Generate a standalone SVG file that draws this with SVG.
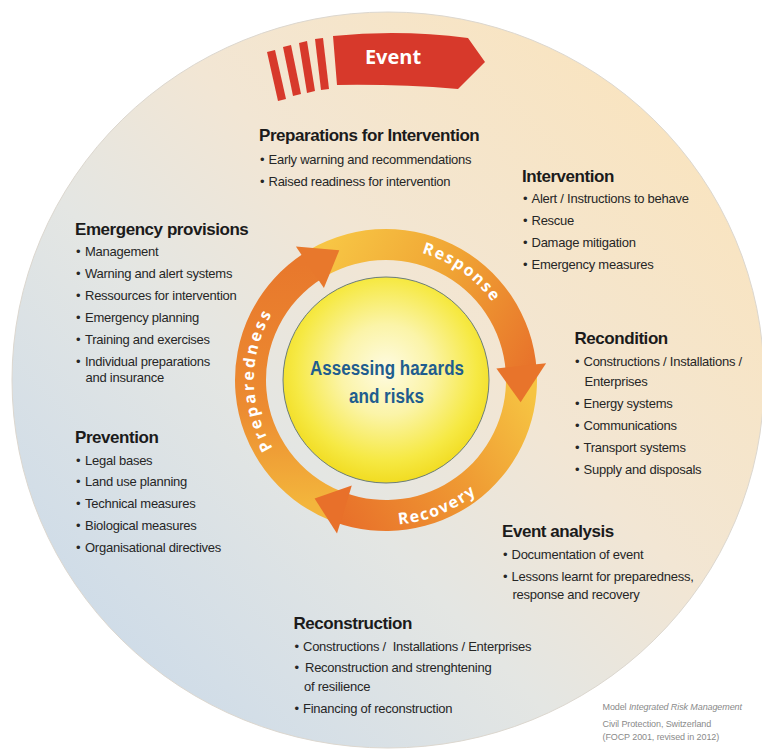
<svg xmlns="http://www.w3.org/2000/svg" width="762" height="749" viewBox="0 0 762 749">
  <defs>
    <style>
      .h { font-family: "Liberation Sans", Arial, sans-serif; font-weight: bold; font-size: 17px; letter-spacing: -0.45px; fill: #1b1b1b; }
      .b { font-family: "Liberation Sans", Arial, sans-serif; font-size: 13px; letter-spacing: -0.25px; fill: #262626; }
      .arc { font-family: "Open Sans", "DejaVu Sans", sans-serif; font-weight: bold; font-size: 16px; fill: #ffffff; }
      .credit { font-family: "Liberation Sans", Arial, sans-serif; font-size: 9px; letter-spacing: -0.1px; fill: #8a8a8a; }
      .center { font-family: "Liberation Sans", Arial, sans-serif; font-weight: bold; font-size: 20px; fill: #1f5d8e; }
      .red { fill: #d7392b; }
    </style>
    <linearGradient id="bg" x1="0.85" y1="0.12" x2="0.1" y2="0.82">
      <stop offset="0" stop-color="#f9e4c0"/>
      <stop offset="0.4" stop-color="#f2e6d4"/>
      <stop offset="0.65" stop-color="#e4e6e3"/>
      <stop offset="1" stop-color="#cfdce8"/>
    </linearGradient>
    <radialGradient id="sun" cx="0.5" cy="0.45" r="0.55">
      <stop offset="0" stop-color="#fefbe2"/>
      <stop offset="0.4" stop-color="#fbf4a8"/>
      <stop offset="0.8" stop-color="#f6e944"/>
      <stop offset="1" stop-color="#f1dc22"/>
    </radialGradient>
    <linearGradient id="gResp" gradientUnits="userSpaceOnUse" x1="318" y1="263" x2="521" y2="380">
      <stop offset="0" stop-color="#f7c544"/>
      <stop offset="0.5" stop-color="#f0a434"/>
      <stop offset="1" stop-color="#e8742b"/>
    </linearGradient>
    <linearGradient id="gReco" gradientUnits="userSpaceOnUse" x1="521" y1="380" x2="329" y2="502">
      <stop offset="0" stop-color="#f6c442"/>
      <stop offset="0.45" stop-color="#ef9a33"/>
      <stop offset="1" stop-color="#e8702a"/>
    </linearGradient>
    <linearGradient id="gPrep" gradientUnits="userSpaceOnUse" x1="329" y1="502" x2="318" y2="263">
      <stop offset="0" stop-color="#f3b53c"/>
      <stop offset="0.4" stop-color="#ec8c31"/>
      <stop offset="1" stop-color="#e8782c"/>
    </linearGradient>
    <path id="pResp" d="M340.85,255.96 A132,132 0 0 1 518,380"/>
    <path id="pPrep" d="M320,494.32 A132,132 0 0 1 320,265.68"/>
    <path id="pReco" d="M302.83,498.78 A145,145 0 0 0 528.34,407.67"/>
  </defs>

  <rect width="762" height="749" fill="#ffffff"/>

  <!-- background disc -->
  <ellipse cx="388" cy="380" rx="376" ry="368" fill="url(#bg)" stroke="#dcd7cf" stroke-width="1"/>

  <!-- event banner -->
  <g id="event">
    <polygon class="red" points="267,52 275,50 286,99 278,101"/>
    <polygon class="red" points="283,47 291,45 301,94 293,96"/>
    <polygon class="red" points="299,43 307,41 315,91 307,93"/>
    <polygon class="red" points="315,39 323,38 329,89 321,90"/>
    <path class="red" d="M333,36 Q400,29 468,38 L485,62 L458,89 Q398,84 337,85 Z"/>
    <text x="393" y="64" text-anchor="middle" font-family="'Open Sans', 'DejaVu Sans', sans-serif" font-weight="bold" font-size="20" fill="#ffffff">Event</text>
  </g>

  <!-- cycle arrows -->
  <g id="connectors">
    <path d="M301.56,254.82 A151,151 0 0 1 536.63,369.47 L505.71,371.63 A120,120 0 0 0 318.90,280.52 Z" fill="url(#gResp)"/>
    <path d="M536.91,374.73 A151,151 0 0 1 334.36,521.89 L344.96,492.76 A120,120 0 0 0 505.93,375.81 Z" fill="url(#gReco)"/>
    <path d="M329.43,520.00 A151,151 0 0 1 305.98,251.94 L322.41,278.23 A120,120 0 0 0 341.05,491.26 Z" fill="url(#gPrep)"/>
    <polygon points="546.1,363.2 496.4,368.4 520.6,402.3" fill="#e8742b"/>
    <polygon points="337.0,533.5 351.8,485.5 314.6,498.6" fill="#e8702a"/>
    <polygon points="295.9,246.5 323.9,288.0 339.3,250.2" fill="#e8782c"/>
    <text class="arc" letter-spacing="1.6"><textPath href="#pResp" startOffset="50%" text-anchor="middle">Response</textPath></text>
    <text class="arc" letter-spacing="2.8"><textPath href="#pPrep" startOffset="50%" text-anchor="middle">Preparedness</textPath></text>
    <text class="arc" letter-spacing="1.6"><textPath href="#pReco" startOffset="50%" text-anchor="middle">Recovery</textPath></text>
  </g>

  <!-- core -->
  <g id="assessing">
    <circle cx="386" cy="380" r="103" fill="url(#sun)" stroke="#6b7d78" stroke-width="1"/>
    <text class="center" x="387" y="375" text-anchor="middle" textLength="154" lengthAdjust="spacingAndGlyphs">Assessing hazards</text>
    <text class="center" x="386.5" y="403" text-anchor="middle" textLength="75" lengthAdjust="spacingAndGlyphs">and risks</text>
  </g>

  <g id="preparations">
    <text class="h" x="259" y="141">Preparations for Intervention</text>
    <text class="b" y="164"><tspan x="260">•</tspan><tspan x="268.5">Early warning and recommendations</tspan></text>
    <text class="b" y="185.5"><tspan x="260">•</tspan><tspan x="268.5">Raised readiness for intervention</tspan></text>
  </g>

  <g id="intervention">
    <text class="h" x="522" y="182">Intervention</text>
    <text class="b" y="203"><tspan x="523">•</tspan><tspan x="531.5">Alert / Instructions to behave</tspan></text>
    <text class="b" y="225"><tspan x="523">•</tspan><tspan x="531.5">Rescue</tspan></text>
    <text class="b" y="247"><tspan x="523">•</tspan><tspan x="531.5">Damage mitigation</tspan></text>
    <text class="b" y="269"><tspan x="523">•</tspan><tspan x="531.5">Emergency measures</tspan></text>
  </g>

  <g id="emergency-provisions">
    <text class="h" x="75" y="235">Emergency provisions</text>
    <text class="b" y="255.5"><tspan x="76">•</tspan><tspan x="85">Management</tspan></text>
    <text class="b" y="278"><tspan x="76">•</tspan><tspan x="85">Warning and alert systems</tspan></text>
    <text class="b" y="299.5"><tspan x="76">•</tspan><tspan x="85">Ressources for intervention</tspan></text>
    <text class="b" y="322"><tspan x="76">•</tspan><tspan x="85">Emergency planning</tspan></text>
    <text class="b" y="344"><tspan x="76">•</tspan><tspan x="85">Training and exercises</tspan></text>
    <text class="b" y="366"><tspan x="76">•</tspan><tspan x="85">Individual preparations</tspan></text>
    <text class="b" x="85.5" y="382">and insurance</text>
  </g>

  <g id="recondition">
    <text class="h" x="574.5" y="344">Recondition</text>
    <text class="b" y="366"><tspan x="575">•</tspan><tspan x="583.5">Constructions / Installations /</tspan></text>
    <text class="b" x="584.5" y="385.5">Enterprises</text>
    <text class="b" y="408"><tspan x="575">•</tspan><tspan x="583.5">Energy systems</tspan></text>
    <text class="b" y="430"><tspan x="575">•</tspan><tspan x="583.5">Communications</tspan></text>
    <text class="b" y="452"><tspan x="575">•</tspan><tspan x="583.5">Transport systems</tspan></text>
    <text class="b" y="474"><tspan x="575">•</tspan><tspan x="583.5">Supply and disposals</tspan></text>
  </g>

  <g id="prevention">
    <text class="h" x="75" y="442.5">Prevention</text>
    <text class="b" y="465"><tspan x="76">•</tspan><tspan x="85">Legal bases</tspan></text>
    <text class="b" y="486"><tspan x="76">•</tspan><tspan x="85">Land use planning</tspan></text>
    <text class="b" y="508"><tspan x="76">•</tspan><tspan x="85">Technical measures</tspan></text>
    <text class="b" y="530"><tspan x="76">•</tspan><tspan x="85">Biological measures</tspan></text>
    <text class="b" y="552"><tspan x="76">•</tspan><tspan x="85">Organisational directives</tspan></text>
  </g>

  <g id="event-analysis">
    <text class="h" x="502" y="536.5">Event analysis</text>
    <text class="b" y="559"><tspan x="503">•</tspan><tspan x="511.5">Documentation of event</tspan></text>
    <text class="b" y="581"><tspan x="503">•</tspan><tspan x="511.5">Lessons learnt for preparedness,</tspan></text>
    <text class="b" x="512.5" y="598.5">response and recovery</text>
  </g>

  <g id="reconstruction">
    <text class="h" x="293.5" y="629">Reconstruction</text>
    <text class="b" y="651" xml:space="preserve"><tspan x="294.5">•</tspan><tspan x="303">Constructions /  Installations / Enterprises</tspan></text>
    <text class="b" y="672"><tspan x="294.5">•</tspan><tspan x="305">Reconstruction and strenghtening</tspan></text>
    <text class="b" x="304" y="691">of resilience</text>
    <text class="b" y="713"><tspan x="294.5">•</tspan><tspan x="303">Financing of reconstruction</tspan></text>
  </g>

  <g id="credit">
    <text class="credit" x="602.5" y="710">Model <tspan font-style="italic">Integrated Risk Management</tspan></text>
    <text class="credit" x="602.5" y="726.5">Civil Protection, Switzerland</text>
    <text class="credit" x="602.5" y="740">(FOCP 2001, revised in 2012)</text>
  </g>
</svg>
